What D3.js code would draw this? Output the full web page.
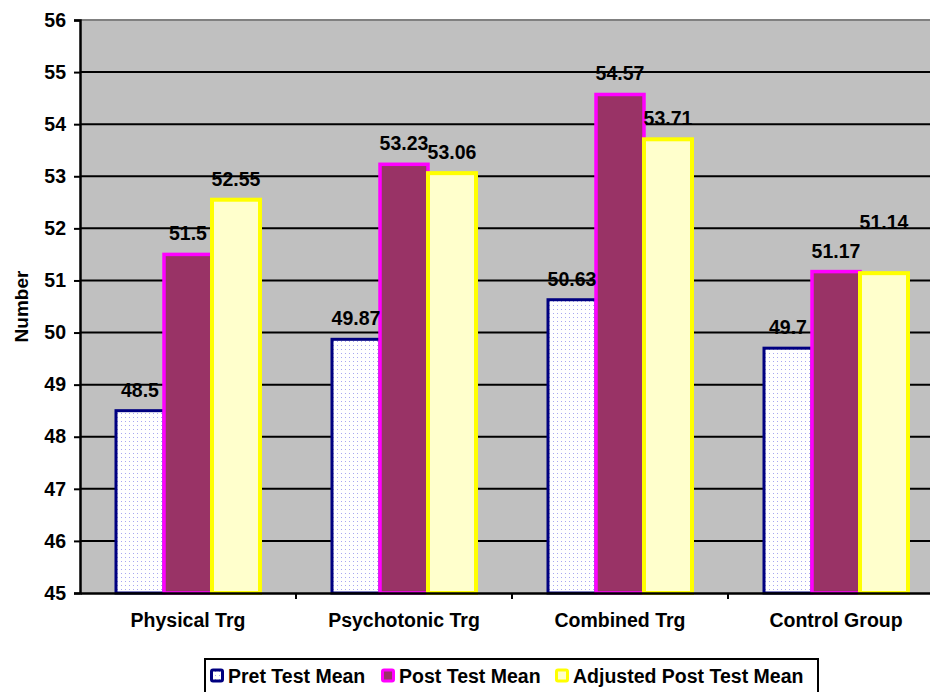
<!DOCTYPE html>
<html>
<head>
<meta charset="utf-8">
<script src="https://cdn.jsdelivr.net/npm/d3@7"></script>
<style>
  html, body { margin: 0; padding: 0; background: #ffffff; }
  svg { display: block; font-family: "Liberation Sans", Arial, Helvetica, sans-serif; font-weight: bold; }
</style>
</head>
<body>
<svg id="chart" width="930" height="692"></svg>
<script>
// Group means per training condition
const categories = ["Physical Trg", "Psychotonic Trg", "Combined Trg", "Control Group"];
const seriesNames = ["Pret Test Mean", "Post Test Mean", "Adjusted Post Test Mean"];
const pretMean = [48.5, 49.87, 50.63, 49.7];
const postMean = [51.5, 53.23, 54.57, 51.17];
const adjustedMean = [52.55, 53.06, 53.71, 51.14];
const yTicks = [45, 46, 47, 48, 49, 50, 51, 52, 53, 54, 55, 56];

const seriesValues = [pretMean, postMean, adjustedMean];

const styles = [
  { fill: "url(#dots)", stroke: "#000080", width: 3 },
  { fill: "#993366", stroke: "#FF00FF", width: 3.5 },
  { fill: "#FFFFCC", stroke: "#FFFF00", width: 4 }
];

const svg = d3.select("#chart");
const plot = { left: 80, top: 20, right: 944, bottom: 593 };

// dotted fill for the pre-test bars
const defs = svg.append("defs");
const pat = defs.append("pattern")
  .attr("id", "dots").attr("patternUnits", "userSpaceOnUse")
  .attr("width", 4).attr("height", 4);
pat.append("rect").attr("width", 4).attr("height", 4).attr("fill", "#ffffff");
pat.append("rect").attr("x", 1).attr("y", 1).attr("width", 1).attr("height", 1).attr("fill", "#a8a8f0");

const x = d3.scaleBand().domain(categories).range([plot.left, plot.right]).paddingInner(0).paddingOuter(0);
const xSub = d3.scaleBand().domain(seriesNames).range([0, x.bandwidth()]).paddingInner(0).paddingOuter(0.75);
const y = d3.scaleLinear().domain([45, 56]).range([plot.bottom, plot.top]);

// plot background
svg.append("rect")
  .attr("x", plot.left).attr("y", plot.top)
  .attr("width", plot.right - plot.left).attr("height", plot.bottom - plot.top)
  .attr("fill", "#C0C0C0");
svg.append("line")
  .attr("x1", plot.left).attr("x2", plot.right)
  .attr("y1", plot.top).attr("y2", plot.top)
  .attr("stroke", "#808080").attr("stroke-width", 2);

// horizontal gridlines
svg.append("g").selectAll("line")
  .data(yTicks.filter(t => t > 45 && t < 56))
  .join("line")
  .attr("x1", plot.left).attr("x2", plot.right)
  .attr("y1", d => y(d)).attr("y2", d => y(d))
  .attr("stroke", "#000").attr("stroke-width", 2);

// bars
seriesNames.forEach((name, si) => {
  const st = styles[si];
  svg.append("g").selectAll("rect")
    .data(categories.map((c, ci) => ({ c, v: seriesValues[si][ci] })))
    .join("rect")
    .attr("x", d => x(d.c) + xSub(name))
    .attr("y", d => y(d.v))
    .attr("width", xSub.bandwidth())
    .attr("height", d => plot.bottom - y(d.v))
    .attr("fill", st.fill)
    .attr("stroke", st.stroke)
    .attr("stroke-width", st.width);
});

// value labels above each bar; the last adjusted label is lifted clear of its neighbour
const lift = (si, ci) => (si === 2 && ci === 3) ? 30 : 0;
seriesNames.forEach((name, si) => {
  svg.append("g").selectAll("text")
    .data(categories.map((c, ci) => ({ c, ci, v: seriesValues[si][ci] })))
    .join("text")
    .attr("x", d => x(d.c) + xSub(name) + xSub.bandwidth() / 2)
    .attr("y", d => y(d.v) - 14 - lift(si, d.ci))
    .attr("text-anchor", "middle")
    .attr("font-size", 19.5)
    .attr("fill", "#000")
    .text(d => String(d.v));
});

// y axis
const yAxis = d3.axisLeft(y).tickValues(yTicks).tickSize(6).tickPadding(8).tickFormat(d3.format("d"));
const gy = svg.append("g").attr("transform", `translate(${plot.left},0)`).call(yAxis);
gy.select(".domain").attr("stroke", "#000").attr("stroke-width", 2.5);
gy.selectAll(".tick line").attr("stroke", "#000").attr("stroke-width", 2);
gy.selectAll(".tick text").attr("font-size", 19.5).attr("font-weight", "bold")
  .attr("font-family", "Liberation Sans, Arial, sans-serif").attr("fill", "#000");

// x axis
const xAxis = d3.axisBottom(x).tickSize(0).tickPadding(20);
const gx = svg.append("g").attr("transform", `translate(0,${plot.bottom})`).call(xAxis);
gx.select(".domain").attr("stroke", "#000").attr("stroke-width", 2.5);
gx.selectAll(".tick text").attr("font-size", 19.5).attr("font-weight", "bold")
  .attr("font-family", "Liberation Sans, Arial, sans-serif").attr("fill", "#000");
// category separators below the axis
svg.append("g").selectAll("line")
  .data(categories.slice(1))
  .join("line")
  .attr("x1", d => x(d)).attr("x2", d => x(d))
  .attr("y1", plot.bottom).attr("y2", plot.bottom + 6)
  .attr("stroke", "#000").attr("stroke-width", 2);

// y axis title
svg.append("text")
  .attr("transform", `translate(28,${(plot.top + plot.bottom) / 2}) rotate(-90)`)
  .attr("text-anchor", "middle")
  .attr("font-size", 19)
  .text("Number");

// legend
const legend = svg.append("g");
legend.append("rect")
  .attr("x", 205).attr("y", 659).attr("width", 613).attr("height", 40)
  .attr("fill", "#fff").attr("stroke", "#000").attr("stroke-width", 2);
const legendX = [210, 381, 555];
seriesNames.forEach((name, si) => {
  const st = styles[si];
  const g = legend.append("g").attr("transform", `translate(${legendX[si]},670)`);
  g.append("rect").attr("x", 1.5).attr("y", 0).attr("width", 11).attr("height", 11)
    .attr("rx", 1.5)
    .attr("fill", st.fill).attr("stroke", st.stroke).attr("stroke-width", 3);
  g.append("text").attr("x", 18).attr("y", 13).attr("font-size", 19.5).text(name);
});
</script>
</body>
</html>
